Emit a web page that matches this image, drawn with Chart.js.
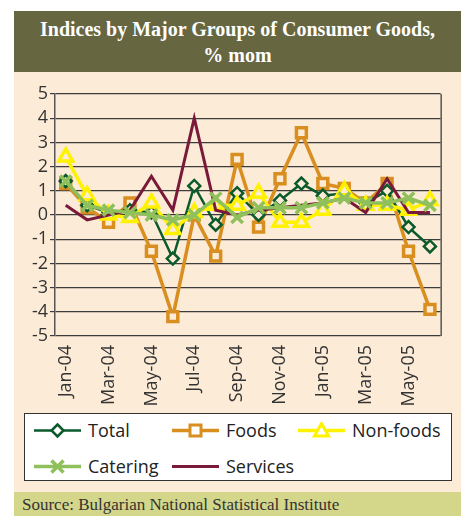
<!DOCTYPE html>
<html>
<head>
<meta charset="utf-8">
<script src="https://cdn.jsdelivr.net/npm/chart.js@4"></script>
<style>
  html, body { margin: 0; padding: 0; background: #fff; }
  body { width: 465px; height: 516px; position: relative; overflow: hidden; }
  .title {
    position: absolute; left: 14px; top: 11px; width: 447px; height: 61px;
    background: #666641; color: #fff; text-align: center;
    font: bold 20px "Liberation Serif", serif; line-height: 26px;
    padding-top: 5px; box-sizing: border-box;
  }
  .panel { position: absolute; left: 14px; top: 72px; width: 447px; height: 420px; background: #fcebd6; }
  #wrap { position: absolute; left: 14px; top: 72px; width: 447px; height: 340px; }
  .legend {
    position: absolute; left: 24px; top: 413px; width: 428px; height: 68px;
    background: #fff; border: 1.5px solid #333; box-sizing: border-box;
  }
  .item { position: absolute; display: flex; align-items: center; font: 18px "Open Sans", sans-serif; color: #222; }
  .item svg { margin-right: 7px; }
  .source {
    position: absolute; left: 14px; top: 492px; width: 447px; height: 24px;
    background: #d4d68a; color: #333; font: 17px "Liberation Serif", serif;
    padding: 3px 0 0 8px; box-sizing: border-box;
  }
</style>
</head>
<body>
<div class="title">Indices by Major Groups of Consumer Goods,<br>% mom</div>
<div class="panel"></div>
<div id="wrap"><canvas id="chart"></canvas></div>
<div class="legend" id="legend"></div>
<div class="source">Source: Bulgarian National Statistical Institute</div>
<script>
// месеци Jan-04 .. Jun-05
const months = ['Jan-04','Feb-04','Mar-04','Apr-04','May-04','Jun-04','Jul-04','Aug-04','Sep-04',
  'Oct-04','Nov-04','Dec-04','Jan-05','Feb-05','Mar-05','Apr-05','May-05','Jun-05'];
const total    = [1.4, 0.4, 0.1, 0.2, 0.1, -1.8, 1.2, -0.4, 0.9, 0.0, 0.6, 1.3, 0.8, 0.9, 0.5, 1.0, -0.5, -1.3];
const foods    = [1.3, 0.3, -0.3, 0.5, -1.5, -4.2, 0.0, -1.7, 2.3, -0.5, 1.5, 3.4, 1.3, 1.1, 0.5, 1.3, -1.5, -3.9];
const nonFoods = [2.4, 0.8, 0.0, -0.1, 0.5, -0.6, 0.1, 0.4, 0.4, 0.9, -0.3, -0.3, 0.2, 1.0, 0.4, 0.4, 0.2, 0.6];
const catering = [1.4, 0.4, 0.2, 0.1, 0.0, -0.2, 0.0, 0.7, -0.1, 0.3, 0.3, 0.3, 0.5, 0.7, 0.5, 0.5, 0.7, 0.4];
const services = [0.4, -0.2, 0.0, 0.2, 1.6, 0.2, 4.0, 0.2, 0.0, 0.2, 0.3, 0.4, 0.5, 0.7, 0.1, 1.5, 0.1, 0.1];
const yTicks = [5, 4, 3, 2, 1, 0, -1, -2, -3, -4, -5];

const cream = '#fcebd6';
const series = [
  { label: 'Total', data: total, color: '#0b5a2c', width: 2.5, point: 'rectRot', radius: 6, pw: 2.5, order: 4 },
  { label: 'Foods', data: foods, color: '#d98e20', width: 3.5, point: 'rect', radius: 7, pw: 3.5, order: 5 },
  { label: 'Non-foods', data: nonFoods, color: '#fff200', width: 3.5, point: 'triangle', radius: 8, pw: 3.5, order: 3 },
  { label: 'Catering', data: catering, color: '#8fc05c', width: 3.5, point: 'crossRot', radius: 8, pw: 3.5, order: 1 },
  { label: 'Services', data: services, color: '#7a1a3a', width: 3, point: false, radius: 0, pw: 0, order: 2 }
];

const frame = {
  id: 'frame',
  afterDraw(chart) {
    const a = chart.chartArea, ctx = chart.ctx;
    ctx.save();
    ctx.strokeStyle = '#555';
    ctx.lineWidth = 1.5;
    ctx.beginPath();
    ctx.moveTo(a.right + 0.5, a.top);
    ctx.lineTo(a.right + 0.5, a.bottom);
    ctx.stroke();
    ctx.restore();
  }
};

new Chart(document.getElementById('chart'), {
  type: 'line',
  data: {
    labels: months,
    datasets: series.map(s => ({
      label: s.label,
      data: s.data,
      borderColor: s.color,
      borderWidth: s.width,
      backgroundColor: cream,
      pointStyle: s.point,
      pointRadius: s.radius,
      pointBorderWidth: s.pw,
      pointBorderColor: s.color,
      pointBackgroundColor: cream,
      tension: 0,
      order: s.order
    }))
  },
  options: {
    responsive: true,
    maintainAspectRatio: false,
    animation: false,
    layout: { padding: { top: 22, right: 16, left: 0, bottom: 0 } },
    plugins: { legend: { display: false }, tooltip: { enabled: false } },
    scales: {
      x: {
        offset: true,
        afterFit: s => { s.height = 76; },
        grid: { display: false, drawTicks: false },
        border: { display: false },
        ticks: {
          autoSkip: false, maxRotation: 90, minRotation: 90, padding: 9,
          color: '#333', font: { family: 'Open Sans', size: 18 },
          callback: function (v, i) { return i % 2 === 0 ? months[i] : ''; }
        }
      },
      y: {
        min: -5, max: 5,
        afterFit: s => { s.width = 41; },
        afterBuildTicks: s => { s.ticks = yTicks.map(v => ({ value: v })); },
        grid: { color: '#3c3c3c', lineWidth: 1.2, tickLength: 5 },
        border: { color: '#555', width: 1.5 },
        ticks: { autoSkip: false, color: '#333', padding: 2, font: { family: 'Open Sans', size: 18 } }
      }
    }
  },
  plugins: [frame]
});

// legend built from the series list
const pos = [[9, 8], [147, 8], [273, 8], [9, 44], [147, 44]];
const legend = document.getElementById('legend');
series.forEach((s, i) => {
  const d = document.createElement('div');
  d.className = 'item';
  d.style.left = pos[i][0] + 'px';
  d.style.top = (pos[i][1] - 4) + 'px';
  let mark = '';
  const c = s.color;
  if (s.point === 'rectRot') mark = `<polygon points="23.5,2.5 29.5,8.5 23.5,14.5 17.5,8.5" fill="#fff" stroke="${c}" stroke-width="2.5"/>`;
  if (s.point === 'rect') mark = `<rect x="18" y="3" width="11" height="11" fill="#fff" stroke="${c}" stroke-width="3"/>`;
  if (s.point === 'triangle') mark = `<polygon points="23.5,1.5 30.5,14 16.5,14" fill="#fff" stroke="${c}" stroke-width="3"/>`;
  if (s.point === 'crossRot') mark = `<path d="M17.5,2.5 L29.5,14.5 M29.5,2.5 L17.5,14.5" stroke="${c}" stroke-width="3.5"/>`;
  d.innerHTML = `<svg width="47" height="17"><line x1="0" y1="8.5" x2="47" y2="8.5" stroke="${c}" stroke-width="${s.width}"/>${mark}</svg>${s.label}`;
  legend.appendChild(d);
});
</script>
</body>
</html>
